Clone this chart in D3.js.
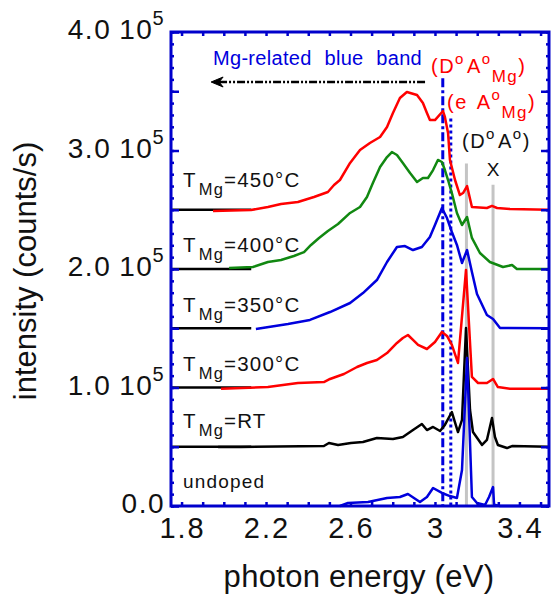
<!DOCTYPE html>
<html><head><meta charset="utf-8">
<script src="https://cdn.jsdelivr.net/npm/d3@7"></script>
<style>
body{margin:0;background:#fff}
text{font-family:"Liberation Sans",Arial,Helvetica,sans-serif}
</style>
</head><body>
<svg id="c" width="551" height="597"></svg>
<script>
// ---------- DATA (energy in eV, intensity in units of 10^5 counts/s, already offset) ----------
const xTickValues = [1.8, 2.2, 2.6, 3.0, 3.4];
const xTickLabels = ["1.8", "2.2", "2.6", "3", "3.4"];
const yTickValues = [0, 1, 2, 3, 4];
const yTickMantissa = ["0.0", "1.0", "2.0", "3.0", "4.0"];
const yTickExponent = ["", "5", "5", "5", "5"];

const seriesNames = ["undoped", "RT", "300°C", "350°C", "400°C", "450°C"];
const seriesOffsets = [0, 0.5, 1.0, 1.5, 2.0, 2.5];
const seriesColors = ["#0000dd", "#000000", "#ff0000", "#0000dd", "#118811", "#ff0000"];

const undopedE = [2.55, 2.588, 2.683, 2.773, 2.834, 2.872, 2.929, 2.962, 2.991, 3.033, 3.071, 3.104, 3.128, 3.152, 3.175, 3.199, 3.237, 3.256, 3.275, 3.280, 3.308, 3.54];
const undopedI = [0, 0.025, 0.034, 0.068, 0.076, 0.101, 0.034, 0.076, 0.152, 0.110, 0.084, 0.068, 0.304, 1.249, 0.076, 0.025, 0.008, 0.076, 0.160, 0.01, 0, 0];

const rtE = [1.973, 2.081, 2.474, 2.498, 2.541, 2.602, 2.659, 2.725, 2.801, 2.848, 2.896, 2.938, 2.962, 2.991, 3.024, 3.047, 3.080, 3.109, 3.128, 3.147, 3.166, 3.180, 3.223, 3.246, 3.270, 3.284, 3.298, 3.341, 3.365, 3.54];
const rtI = [0.498, 0.498, 0.506, 0.532, 0.515, 0.532, 0.540, 0.574, 0.565, 0.582, 0.641, 0.692, 0.641, 0.667, 0.633, 0.684, 0.793, 0.624, 0.726, 1.502, 0.810, 0.624, 0.515, 0.557, 0.743, 0.582, 0.515, 0.489, 0.506, 0.5];

const t300E = [1.987, 2.209, 2.351, 2.474, 2.503, 2.569, 2.631, 2.678, 2.725, 2.773, 2.820, 2.848, 2.872, 2.896, 2.920, 2.962, 3.000, 3.033, 3.057, 3.080, 3.109, 3.147, 3.175, 3.204, 3.246, 3.275, 3.298, 3.355, 3.54];
const t300I = [0.99, 1.004, 1.038, 1.046, 1.072, 1.114, 1.173, 1.207, 1.232, 1.291, 1.376, 1.418, 1.443, 1.401, 1.359, 1.325, 1.384, 1.468, 1.435, 1.359, 1.207, 1.992, 1.089, 1.038, 1.038, 1.072, 1.004, 0.99, 0.99];

const t350E = [2.152, 2.304, 2.408, 2.503, 2.598, 2.659, 2.725, 2.773, 2.820, 2.858, 2.896, 2.938, 2.976, 3.000, 3.033, 3.057, 3.080, 3.104, 3.128, 3.152, 3.175, 3.199, 3.246, 3.275, 3.308, 3.54];
const t350I = [1.494, 1.536, 1.570, 1.637, 1.713, 1.797, 1.907, 2.059, 2.186, 2.194, 2.160, 2.186, 2.270, 2.371, 2.515, 2.430, 2.312, 2.203, 2.051, 2.160, 1.975, 1.789, 1.612, 1.578, 1.502, 1.5];

const t400E = [2.025, 2.138, 2.209, 2.271, 2.332, 2.380, 2.413, 2.451, 2.493, 2.541, 2.598, 2.645, 2.678, 2.706, 2.740, 2.773, 2.796, 2.820, 2.848, 2.882, 2.915, 2.943, 2.967, 2.991, 3.014, 3.033, 3.047, 3.062, 3.080, 3.104, 3.128, 3.152, 3.175, 3.213, 3.260, 3.322, 3.365, 3.388, 3.54];
const t400I = [2.008, 2.017, 2.059, 2.076, 2.110, 2.143, 2.203, 2.262, 2.321, 2.380, 2.473, 2.523, 2.608, 2.726, 2.861, 2.945, 2.987, 2.962, 2.895, 2.810, 2.734, 2.768, 2.768, 2.835, 2.920, 2.903, 2.835, 2.751, 2.641, 2.473, 2.371, 2.439, 2.262, 2.135, 2.059, 2.017, 2.034, 2.0, 2.0];

const t450E = [1.949, 2.129, 2.209, 2.271, 2.351, 2.427, 2.493, 2.522, 2.550, 2.598, 2.645, 2.692, 2.740, 2.773, 2.801, 2.834, 2.867, 2.915, 2.943, 2.962, 2.976, 3.000, 3.038, 3.047, 3.062, 3.071, 3.095, 3.118, 3.133, 3.152, 3.175, 3.246, 3.270, 3.294, 3.355, 3.54];
const t450I = [2.489, 2.498, 2.523, 2.549, 2.565, 2.608, 2.650, 2.709, 2.751, 2.895, 3.004, 3.063, 3.114, 3.198, 3.316, 3.443, 3.494, 3.468, 3.401, 3.316, 3.257, 3.257, 3.333, 3.283, 3.148, 2.920, 2.751, 2.624, 2.641, 2.700, 2.523, 2.515, 2.532, 2.515, 2.506, 2.5];

const seriesE = [undopedE, rtE, t300E, t350E, t400E, t450E];
const seriesI = [undopedI, rtI, t300I, t350I, t400I, t450I];
const baselineEnd = 2.13;   // end of the black baseline marks (eV)

// reference lines: [energy, top value]
const blueLineE = [3.037, 3.075];
const blueLineTop = [3.61, 3.27];
const grayLineE = [3.149, 3.275];
const grayLineTop = [2.89, 2.71];
const arrowFromE = 2.953, arrowToE = 1.94, arrowLevel = 3.578;

// ---------- DRAWING ----------
const svg = d3.select("#c");
const L = 171, R = 549, T = 32, B = 506;
const x = d3.scaleLinear().domain([1.75, 3.54]).range([L, R]);
const y = d3.scaleLinear().domain([0, 4]).range([B, T]);
const frameColor = "#0000cc";

// gray lines
grayLineE.forEach((e, i) => {
  svg.append("line").attr("x1", x(e)).attr("x2", x(e)).attr("y1", y(grayLineTop[i])).attr("y2", y(0))
    .attr("stroke", "#c4c4c4").attr("stroke-width", 3);
});
// blue vertical lines
const blueDash = ["9,3,3,3", "3,3"];
blueLineE.forEach((e, i) => {
  svg.append("line").attr("x1", x(e)).attr("x2", x(e)).attr("y1", y(blueLineTop[i])).attr("y2", y(0))
    .attr("stroke", "#0000dd").attr("stroke-width", 3).attr("stroke-dasharray", blueDash[i]);
});

// baselines
seriesOffsets.forEach(o => {
  if (o === 0) return;
  svg.append("line").attr("x1", x(1.75)).attr("x2", x(baselineEnd)).attr("y1", y(o)).attr("y2", y(o))
    .attr("stroke", "#000").attr("stroke-width", 2.5);
});

// curves
const line = d3.line().x(d => x(d[0])).y(d => y(d[1]));
const drawOrder = [5, 4, 3, 2, 1, 0];
drawOrder.forEach(k => {
  const pts = seriesE[k].map((e, j) => [e, seriesI[k][j]]);
  svg.append("path").datum(pts).attr("d", line).attr("fill", "none")
    .attr("stroke", seriesColors[k]).attr("stroke-width", 2.5).attr("stroke-linejoin", "round");
});

// arrow
svg.append("line").attr("x1", x(arrowFromE)).attr("x2", x(arrowToE) + 4).attr("y1", y(arrowLevel)).attr("y2", y(arrowLevel))
  .attr("stroke", "#000").attr("stroke-width", 2.5).attr("stroke-dasharray", "8,2,2,2,2,2");
{
  const ax = x(arrowToE), ay = y(arrowLevel);
  svg.append("path").attr("d", `M${ax},${ay} L${ax + 12},${ay - 5} L${ax + 8},${ay} L${ax + 12},${ay + 5} Z`)
    .attr("fill", "#000").attr("stroke", "#000").attr("stroke-width", 1).attr("stroke-linejoin", "round");
}

// frame axes with inward ticks
const xMinor = d3.range(18, 36).map(v => v / 10).filter(v => v <= 3.54);
const yMinor = d3.range(0, 41).map(v => v / 10);
const yMajor = d3.range(0, 9).map(v => v / 2);
function styleAxis(g) {
  g.select(".domain").remove();
  g.selectAll("line").attr("stroke", frameColor).attr("stroke-width", 2.5);
  g.selectAll("text").remove();
}
svg.append("g").attr("transform", `translate(0,${B})`).call(d3.axisBottom(x).tickValues(xMinor).tickSize(-4)).call(styleAxis);
svg.append("g").attr("transform", `translate(0,${T})`).call(d3.axisTop(x).tickValues(xMinor).tickSize(-4)).call(styleAxis);
svg.append("g").attr("transform", `translate(${L},0)`).call(d3.axisLeft(y).tickValues(yMinor).tickSize(-3)).call(styleAxis);
svg.append("g").attr("transform", `translate(${R},0)`).call(d3.axisRight(y).tickValues(yMinor).tickSize(-3)).call(styleAxis);
svg.append("g").attr("transform", `translate(${L},0)`).call(d3.axisLeft(y).tickValues(yMajor).tickSize(-8)).call(styleAxis);
svg.append("g").attr("transform", `translate(${R},0)`).call(d3.axisRight(y).tickValues(yMajor).tickSize(-8)).call(styleAxis);
svg.append("rect").attr("x", L).attr("y", T).attr("width", R - L).attr("height", B - T)
  .attr("fill", "none").attr("stroke", frameColor).attr("stroke-width", 3);

// x tick labels
xTickValues.forEach((v, i) => {
  svg.append("text").attr("x", x(v) + 1).attr("y", 538).attr("text-anchor", "middle")
    .attr("font-size", 29).attr("letter-spacing", 2).attr("fill", "#111").text(xTickLabels[i]);
});
// y tick labels
yTickValues.forEach((v, i) => {
  const t = svg.append("text").attr("x", 165).attr("y", y(v) + 7).attr("text-anchor", "end")
    .attr("font-size", 28).attr("letter-spacing", 1.5).attr("fill", "#111");
  t.append("tspan").text(yTickMantissa[i]);
  if (yTickExponent[i]) {
    t.append("tspan").attr("dx", 8).text("10");
    t.append("tspan").attr("font-size", 20).attr("dy", -14).attr("dx", -1).text(yTickExponent[i]);
  }
});

// axis titles
svg.append("text").attr("x", 359).attr("y", 587).attr("text-anchor", "middle")
  .attr("font-size", 31).attr("letter-spacing", 0.3).attr("fill", "#111").text("photon energy (eV)");
svg.append("text").attr("transform", `translate(36,${271}) rotate(-90)`).attr("text-anchor", "middle")
  .attr("font-size", 31).attr("fill", "#111").text("intensity (counts/s)");

// series labels
const labelLift = [0.15, 0.16, 0.14, 0.14, 0.14, 0.19];
seriesNames.forEach((n, k) => {
  const yy = y(seriesOffsets[k] + labelLift[k]);
  const t = svg.append("text").attr("x", 183).attr("y", yy).attr("fill", "#111").attr("font-size", 20.5).attr("letter-spacing", 1.2);
  if (k === 0) { t.attr("font-size", 19).text(n); return; }
  t.append("tspan").text("T");
  t.append("tspan").attr("font-size", 16.5).attr("dx", 2).attr("dy", 8).text("Mg");
  t.append("tspan").attr("dy", -8).text("=" + n);
});

// annotations
svg.append("text").attr("x", x(1.949)).attr("y", y(3.72)).attr("fill", "#0000dd")
  .attr("font-size", 20).attr("letter-spacing", 0.3).attr("word-spacing", 7).text("Mg-related blue band");

function dao(xx, yy, color, first, sub) {
  const t = svg.append("text").attr("x", xx).attr("y", yy).attr("fill", color).attr("font-size", 20).attr("letter-spacing", 1.5);
  t.append("tspan").text("(" + first);
  t.append("tspan").attr("font-size", 15).attr("dy", -9).text("o");
  t.append("tspan").attr("dy", 9).attr("dx", 2).text("A");
  t.append("tspan").attr("font-size", 15).attr("dy", -9).text("o");
  if (sub) {
    t.append("tspan").attr("font-size", 17).attr("dy", 18).text("Mg");
    t.append("tspan").attr("dy", -9).text(")");
  } else {
    t.append("tspan").attr("dy", 9).text(")");
  }
}
dao(431, 73, "#ff0000", "D", true);
{
  const t = svg.append("text").attr("x", 447).attr("y", 109).attr("fill", "#ff0000").attr("font-size", 20).attr("letter-spacing", 1.5);
  t.append("tspan").text("(e ");
  t.append("tspan").attr("dx", 3).text("A");
  t.append("tspan").attr("font-size", 15).attr("dy", -9).text("o");
  t.append("tspan").attr("font-size", 17).attr("dy", 18).text("Mg");
  t.append("tspan").attr("dy", -9).text(")");
}
dao(462, 148, "#111", "D", false);
svg.append("text").attr("x", x(3.275)).attr("y", 176).attr("text-anchor", "middle").attr("fill", "#111")
  .attr("font-size", 19).text("X");
</script>
</body></html>
